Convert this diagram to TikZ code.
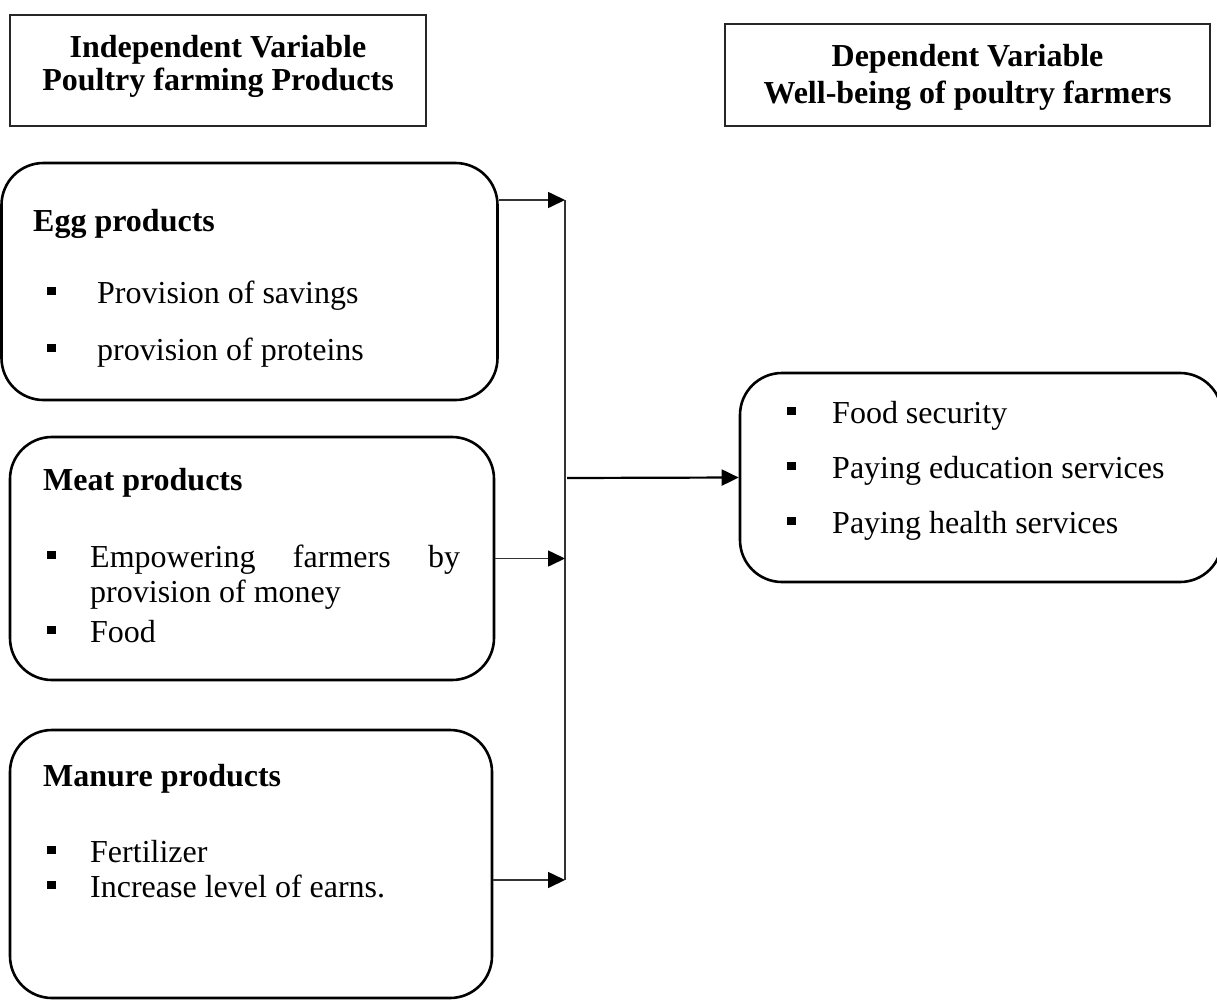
\documentclass[tikz,border=0pt]{standalone}
\usepackage{fontspec}
\setmainfont{Liberation Serif}
\usetikzlibrary{arrows.meta}
\newcommand{\itm}[2]{\makebox[#1][l]{\rule[8pt]{8.5pt}{8.5pt}}#2}
\begin{document}
\begin{tikzpicture}[x=1pt,y=-1pt,
    txt/.style={inner sep=0pt, anchor=base west, font=\fontsize{32}{38}\selectfont},
    hd/.style={inner sep=0pt, anchor=base, font=\fontsize{32}{38}\selectfont\bfseries},
    hdbox/.style={draw=black!85, line width=1.5pt, inner sep=0pt},
    rbox/.style={draw, line width=2.6pt, rounded corners=42pt, inner sep=0pt},
    wire/.style={draw=black!80, line width=1.6pt},
    tip/.style={-{Triangle[length=17pt,width=16pt,color=black]}}]
    \useasboundingbox (0,0) rectangle (1217,1001);
    % headers
    \node[hdbox, minimum width=416pt, minimum height=111pt] (indep) at (218,70.5) {};
    \node[hd] (indepa) at (218,57) {Independent Variable};
    \node[hd] (indepb) at (218,90) {Poultry farming Products};
    \node[hdbox, minimum width=485pt, minimum height=102pt] (dep) at (967.5,75) {};
    \node[hd] (depa) at (967.5,66) {Dependent Variable};
    \node[hd] (depb) at (967.5,103) {Well-being of poultry farmers};
    % product boxes
    \node[rbox, minimum width=496pt, minimum height=237pt] (egg) at (249.5,281.5) {};
    \node[hd, anchor=base west] (eggt) at (33,231) {Egg products};
    \node[txt] (egga) at (47,303) {\itm{50pt}{Provision of savings}};
    \node[txt] (eggb) at (47,360) {\itm{50pt}{provision of proteins}};
    \node[rbox, minimum width=484pt, minimum height=243pt] (meat) at (252,558.5) {};
    \node[hd, anchor=base west] (meatt) at (43,490) {Meat products};
    \node[txt] (meata) at (47,567) {\itm{43pt}{\makebox[370pt][s]{Empowering farmers by}}};
    \node[txt] (meatb) at (90,602) {provision of money};
    \node[txt] (meatc) at (47,642) {\itm{43pt}{Food}};
    \node[rbox, minimum width=482pt, minimum height=268pt] (manure) at (251,864) {};
    \node[hd, anchor=base west] (manuret) at (43,786) {Manure products};
    \node[txt] (manurea) at (47,862) {\itm{43pt}{Fertilizer}};
    \node[txt] (manureb) at (47,897) {\itm{43pt}{Increase level of earns.}};
    % well-being box
    \node[rbox, minimum width=482pt, minimum height=209pt] (rhs) at (981,477.5) {};
    \node[txt] (rhsa) at (787,423) {\itm{45pt}{Food security}};
    \node[txt] (rhsb) at (787,478) {\itm{45pt}{Paying education services}};
    \node[txt] (rhsc) at (787,533) {\itm{45pt}{Paying health services}};
    % connectors
    \coordinate (bustop) at (565,200);
    \coordinate (busbot) at (565,880);
    \coordinate (busmid) at (567,478);
    \draw[wire] (bustop) -- (busbot);
    \draw[wire, tip] (egg.east |- bustop) -- (bustop);
    \draw[wire, tip] (meat.east) -- (meat.east -| bustop);
    \draw[wire, tip] (manure.east |- busbot) -- (busbot);
    \draw[wire, line width=2.2pt, draw=black, tip] (busmid) -- (rhs.west);
\end{tikzpicture}
\end{document}
